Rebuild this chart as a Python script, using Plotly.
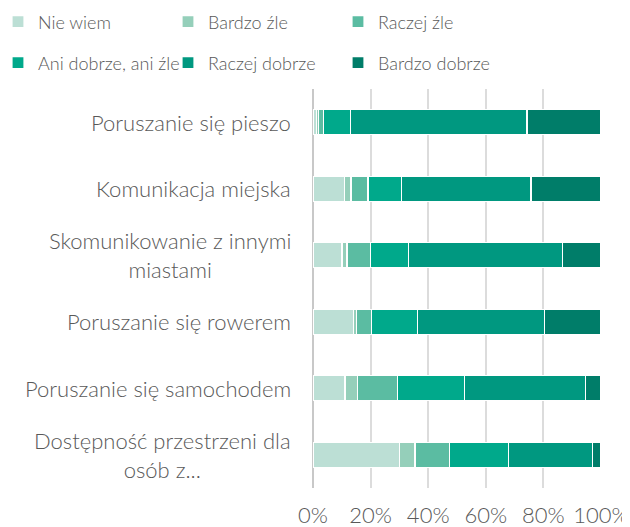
import plotly.graph_objects as go

categories = [
    "Poruszanie się pieszo",
    "Komunikacja miejska",
    "Skomunikowanie z innymi<br>miastami",
    "Poruszanie się rowerem",
    "Poruszanie się samochodem",
    "Dostępność przestrzeni dla<br>osób z...",
]
series_names = ["Nie wiem", "Bardzo źle", "Raczej źle", "Ani dobrze, ani źle", "Raczej dobrze", "Bardzo dobrze"]
nie_wiem = [1.1, 11.0, 10.1, 14.1, 11.1, 30.0]
bardzo_zle = [0.8, 2.2, 1.7, 0.9, 4.3, 5.4]
raczej_zle = [1.8, 5.9, 8.1, 5.3, 13.8, 11.9]
ani = [9.3, 11.5, 13.3, 16.0, 23.3, 20.5]
raczej_dobrze = [61.3, 45.1, 53.5, 44.0, 42.2, 29.2]
bardzo_dobrze = [25.7, 24.3, 13.3, 19.7, 5.3, 3.0]
series_values = [nie_wiem, bardzo_zle, raczej_zle, ani, raczej_dobrze, bardzo_dobrze]
colors = ["#bcdfd5", "#95cfba", "#5bbca2", "#00a98b", "#009880", "#007d69"]
x_ticks = [0, 20, 40, 60, 80, 100]
x_tick_labels = ["0%", "20%", "40%", "60%", "80%", "100%"]

FONT = "Lato"
TXT = "#595959"
WEIGHT = 300

# the page body has an 8px margin, so the figure sits at (8, 8)
W, H = 622, 519
L, R, T, B = 305, 29, 81, 39
PW, PH = W - L - R, H - T - B

fig = go.Figure()
for i, (name, vals, col) in enumerate(zip(series_names, series_values, colors)):
    fig.add_trace(go.Bar(
        y=categories, x=vals, name=name, orientation="h",
        marker=dict(color=col, line=dict(color="white", width=1.2)),
        legend="legend" if i < 3 else "legend2",
        hoverinfo="x+name",
    ))

for c in categories:
    fig.add_annotation(
        x=0, xref="paper", y=c, yref="y", text=c, showarrow=False,
        xanchor="right", xshift=-20, align="center",
        font=dict(family=FONT, size=22, color=TXT, weight=WEIGHT),
    )

leg_common = dict(
    orientation="h", xref="paper", yref="paper",
    x=(-10 - L) / PW, xanchor="left", yanchor="middle",
    entrywidth=125, entrywidthmode="pixels",
    font=dict(family=FONT, size=18, color=TXT, weight=WEIGHT),
    bgcolor="rgba(0,0,0,0)", traceorder="normal",
)

fig.update_layout(
    width=W, height=H,
    margin=dict(l=L, r=R, t=T, b=B, autoexpand=False),
    barmode="stack", bargap=0.62,
    paper_bgcolor="white", plot_bgcolor="white",
    font=dict(family=FONT, size=19, color=TXT, weight=WEIGHT),
    legend=dict(**leg_common, y=(H - B - 14) / PH),
    legend2=dict(**leg_common, y=(H - B - 55) / PH),
    xaxis=dict(
        range=[0, 100], tickvals=x_ticks, ticktext=x_tick_labels,
        showgrid=True, gridcolor="#dcdcdc", gridwidth=2,
        zeroline=True, zerolinecolor="#c8c8c8", zerolinewidth=2,
        tickfont=dict(family=FONT, size=22, color=TXT, weight=WEIGHT),
        ticks="outside", ticklen=8, tickcolor="rgba(0,0,0,0)",
        fixedrange=True,
    ),
    yaxis=dict(
        autorange="reversed", showticklabels=False, showgrid=False,
        fixedrange=True,
    ),
    showlegend=True,
)

fig.write_html("out.html")
